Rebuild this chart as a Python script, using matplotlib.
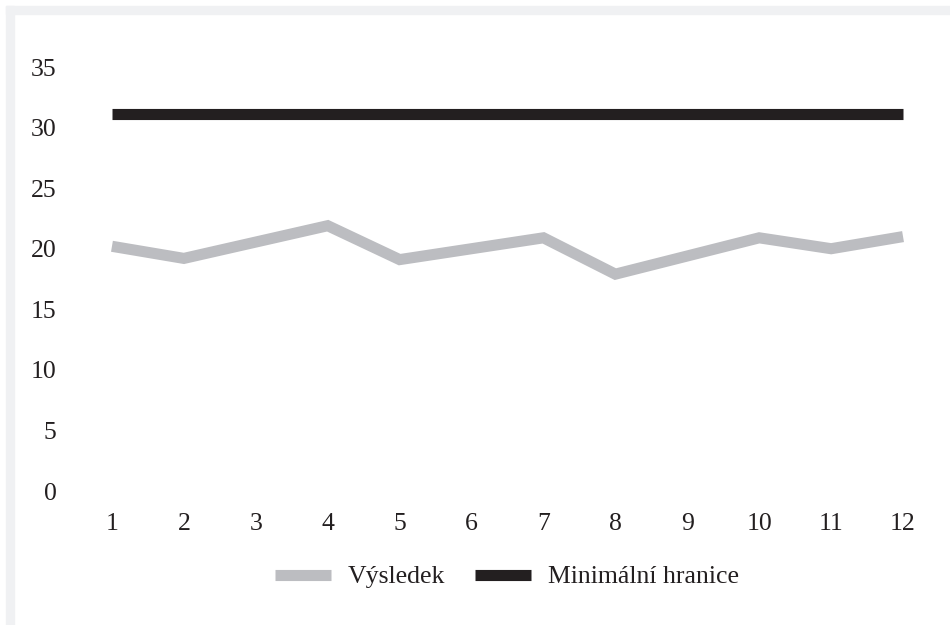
import matplotlib.pyplot as plt
from matplotlib.patches import Rectangle

# monthly results against the fixed minimum
months = [1, 2, 3, 4, 5, 6, 7, 8, 9, 10, 11, 12]
vysledek = [20.2, 19.2, 20.55, 21.9, 19.1, 20.0, 20.9, 17.9, 19.4, 20.9, 20.0, 21.0]
hranice = [31.15] * 12
y_ticks = [0, 5, 10, 15, 20, 25, 30, 35]

GRAY = "#bcbdc1"
BLACK = "#231f20"
W, H = 950, 625


def main():
    plt.rcParams["font.family"] = ["Liberation Serif", "DejaVu Serif"]
    fig = plt.figure(figsize=(9.5, 6.25), dpi=100)
    fig.patch.set_facecolor("white")

    # light frame along the top and left edge
    fig.patches.append(Rectangle((6 / W, 0), 8 / W, 1 - 6 / H,
                                 transform=fig.transFigure, color="#f0f1f3", zorder=0))
    fig.patches.append(Rectangle((6 / W, 1 - 14 / H), 1 - 6 / W, 8 / H,
                                 transform=fig.transFigure, color="#f0f1f3", zorder=0))

    ax = fig.add_axes([76 / W, 1 - 491 / H, (939 - 76) / W, (491 - 67) / H])
    ax.set_facecolor("none")
    ax.plot(months, vysledek, color=GRAY, lw=8, solid_joinstyle="miter",
            solid_capstyle="butt", label="Výsledek")
    ax.plot(months, hranice, color=BLACK, lw=8, solid_capstyle="butt",
            label="Minimální hranice")

    ax.set_xlim(0.5, 12.5)
    ax.set_ylim(0, 35)
    ax.set_xticks(months)
    ax.set_yticks(y_ticks)
    ax.tick_params(length=0, labelsize=18.5, colors="#231f20")
    ax.tick_params(axis="y", pad=14)
    ax.tick_params(axis="x", pad=16)
    for s in ax.spines.values():
        s.set_visible(False)

    fig.legend(loc="center", bbox_to_anchor=(507 / W, 1 - 577 / H), ncol=2,
               frameon=False, fontsize=18.5, handlelength=2.2, handletextpad=0.65,
               columnspacing=1.15, labelcolor="#231f20")

    fig.savefig("out.png", dpi=100, facecolor="white")


main()
